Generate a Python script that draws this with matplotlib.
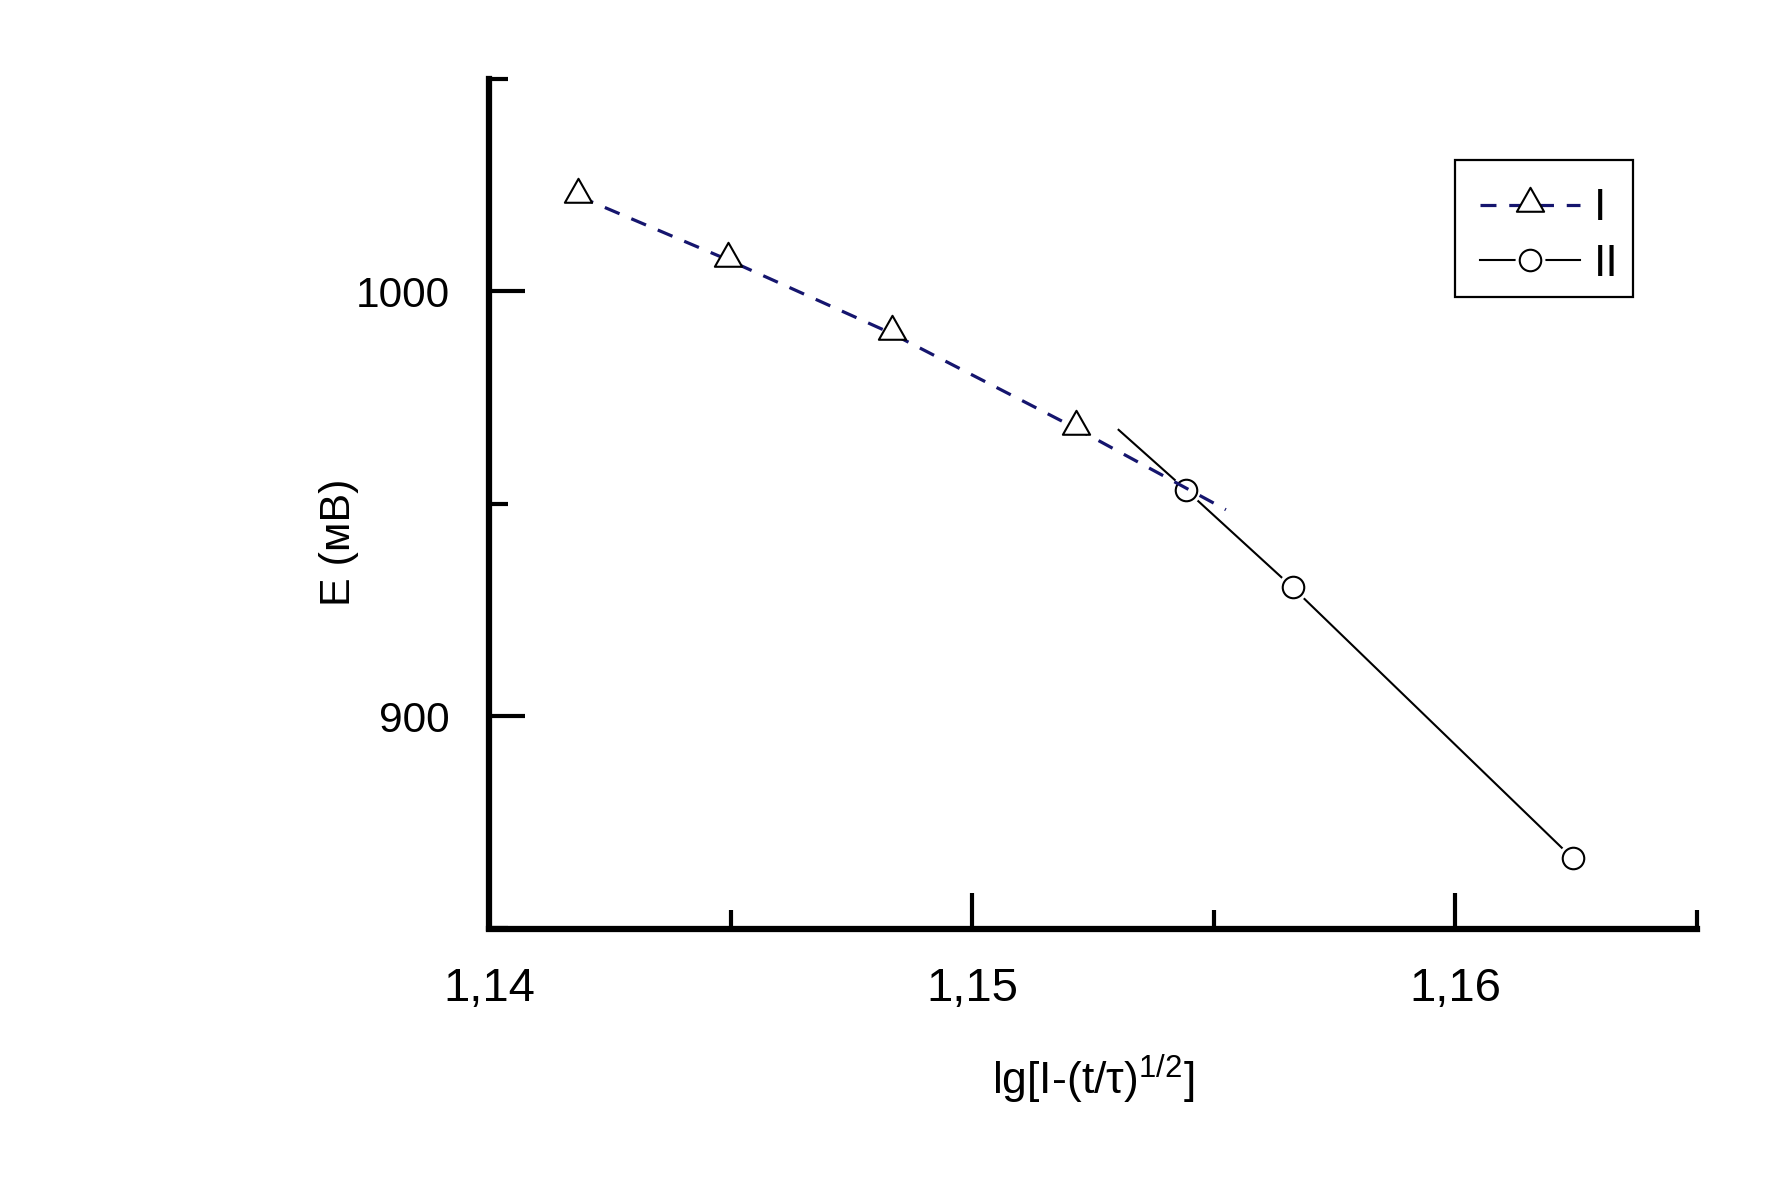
import matplotlib
matplotlib.use('Agg')
import matplotlib.pyplot as plt
from matplotlib.path import Path
from matplotlib.patches import Rectangle
from matplotlib.ticker import FixedLocator, FixedFormatter, MultipleLocator
from matplotlib.font_manager import FontProperties

# Series I (triangles, dashed line)
x_tri = [1.14185, 1.14495, 1.14833, 1.15214]
y_tri = [1022.4, 1007.4, 990.1, 967.8]
# the dashed line runs on a bit past the last triangle
x_tri_end = [1.15525]
y_tri_end = [948.6]

# Series II (circles, solid line)
x_circ = [1.15443, 1.15663, 1.16243]
y_circ = [953.2, 930.3, 866.5]
# the solid line starts a bit before the first circle
x_circ_start = [1.15303]
y_circ_start = [967.4]

x_ticks = [1.14, 1.15, 1.16]
x_tick_labels = ['1,14', '1,15', '1,16']
y_ticks = [900, 1000]
y_tick_labels = ['900', '1000']
series_labels = ['I', 'II']

narrow = ['Liberation Sans Narrow', 'Liberation Sans', 'DejaVu Sans']
regular = ['Liberation Sans', 'DejaVu Sans']

plt.rcParams['mathtext.fontset'] = 'custom'
plt.rcParams['mathtext.rm'] = 'Liberation Sans'
plt.rcParams['mathtext.it'] = 'Liberation Sans'

# Origin style triangle: data point sits near the base
tri = Path([(0, 1.30), (-1, -0.46), (1, -0.46), (0, 1.30)],
           [Path.MOVETO, Path.LINETO, Path.LINETO, Path.CLOSEPOLY])

fig = plt.figure(figsize=(17.71, 11.81), dpi=100)
ax = fig.add_axes([489 / 1771, 1 - 928.5 / 1181, 1208 / 1771, 849.5 / 1181])

navy = '#15156e'

l2, = ax.plot(x_circ_start + x_circ, y_circ_start + y_circ, color='black', lw=1.5, zorder=2)
h2, = ax.plot(x_circ, y_circ, ls='none', marker='o', ms=15.5, mfc='white', mec='white', mew=6, zorder=3)
m2, = ax.plot(x_circ, y_circ, ls='none', marker='o', ms=15.5, mfc='white', mec='black', mew=1.5, zorder=4)

l1, = ax.plot(x_tri + x_tri_end, y_tri + y_tri_end, color=navy, lw=2.3, dashes=(5, 4), zorder=5)
m1, = ax.plot(x_tri, y_tri, ls='none', marker=tri, ms=25.5, mfc='white', mec='black', mew=1.5, zorder=6)

ax.set_xlim(1.14, 1.165)
ax.set_ylim(850, 1050)

for s in ['top', 'right']:
    ax.spines[s].set_visible(False)
for s in ['left', 'bottom']:
    ax.spines[s].set_linewidth(4.5)

ax.xaxis.set_major_locator(FixedLocator(x_ticks))
ax.xaxis.set_major_formatter(FixedFormatter(x_tick_labels))
ax.xaxis.set_minor_locator(MultipleLocator(0.005))
ax.yaxis.set_major_locator(FixedLocator(y_ticks))
ax.yaxis.set_major_formatter(FixedFormatter(y_tick_labels))
ax.yaxis.set_minor_locator(MultipleLocator(50))

ax.tick_params(which='major', direction='in', length=26, width=3)
ax.tick_params(which='minor', direction='in', length=14, width=3)
ax.tick_params(axis='x', which='major', pad=28)
ax.tick_params(axis='y', which='major', pad=28)
for t in ax.get_xticklabels():
    t.set_fontfamily(narrow)
    t.set_fontsize(34)
for t in ax.get_yticklabels():
    t.set_fontfamily(regular)
    t.set_fontsize(30.5)

ax.set_xlabel('lg[I-(t/τ)$^{1/2}$]', fontsize=32, family=narrow)
ax.xaxis.set_label_coords(0.5, -0.146)
ax.set_ylabel('E (мВ)', fontsize=31, family=regular)
ax.yaxis.set_label_coords(-0.108, 0.455)

# legend box drawn on its own, entries placed inside it
ax.add_patch(Rectangle(((1454.7 - 489) / 1208, (928.5 - 297.1) / 849.5),
                       178.5 / 1208, 136.7 / 849.5, transform=ax.transAxes,
                       fill=False, edgecolor='black', lw=1.6, clip_on=False, zorder=7))
ax.legend([(l1, m1), (l2, h2, m2)], series_labels,
          loc='upper left', bbox_to_anchor=(0.820, 0.8715), borderaxespad=0,
          prop=FontProperties(family=narrow, size=32), frameon=False,
          handlelength=2.27, handletextpad=0.30, labelspacing=0.327, borderpad=0)

fig.savefig('out.png', dpi=100)
